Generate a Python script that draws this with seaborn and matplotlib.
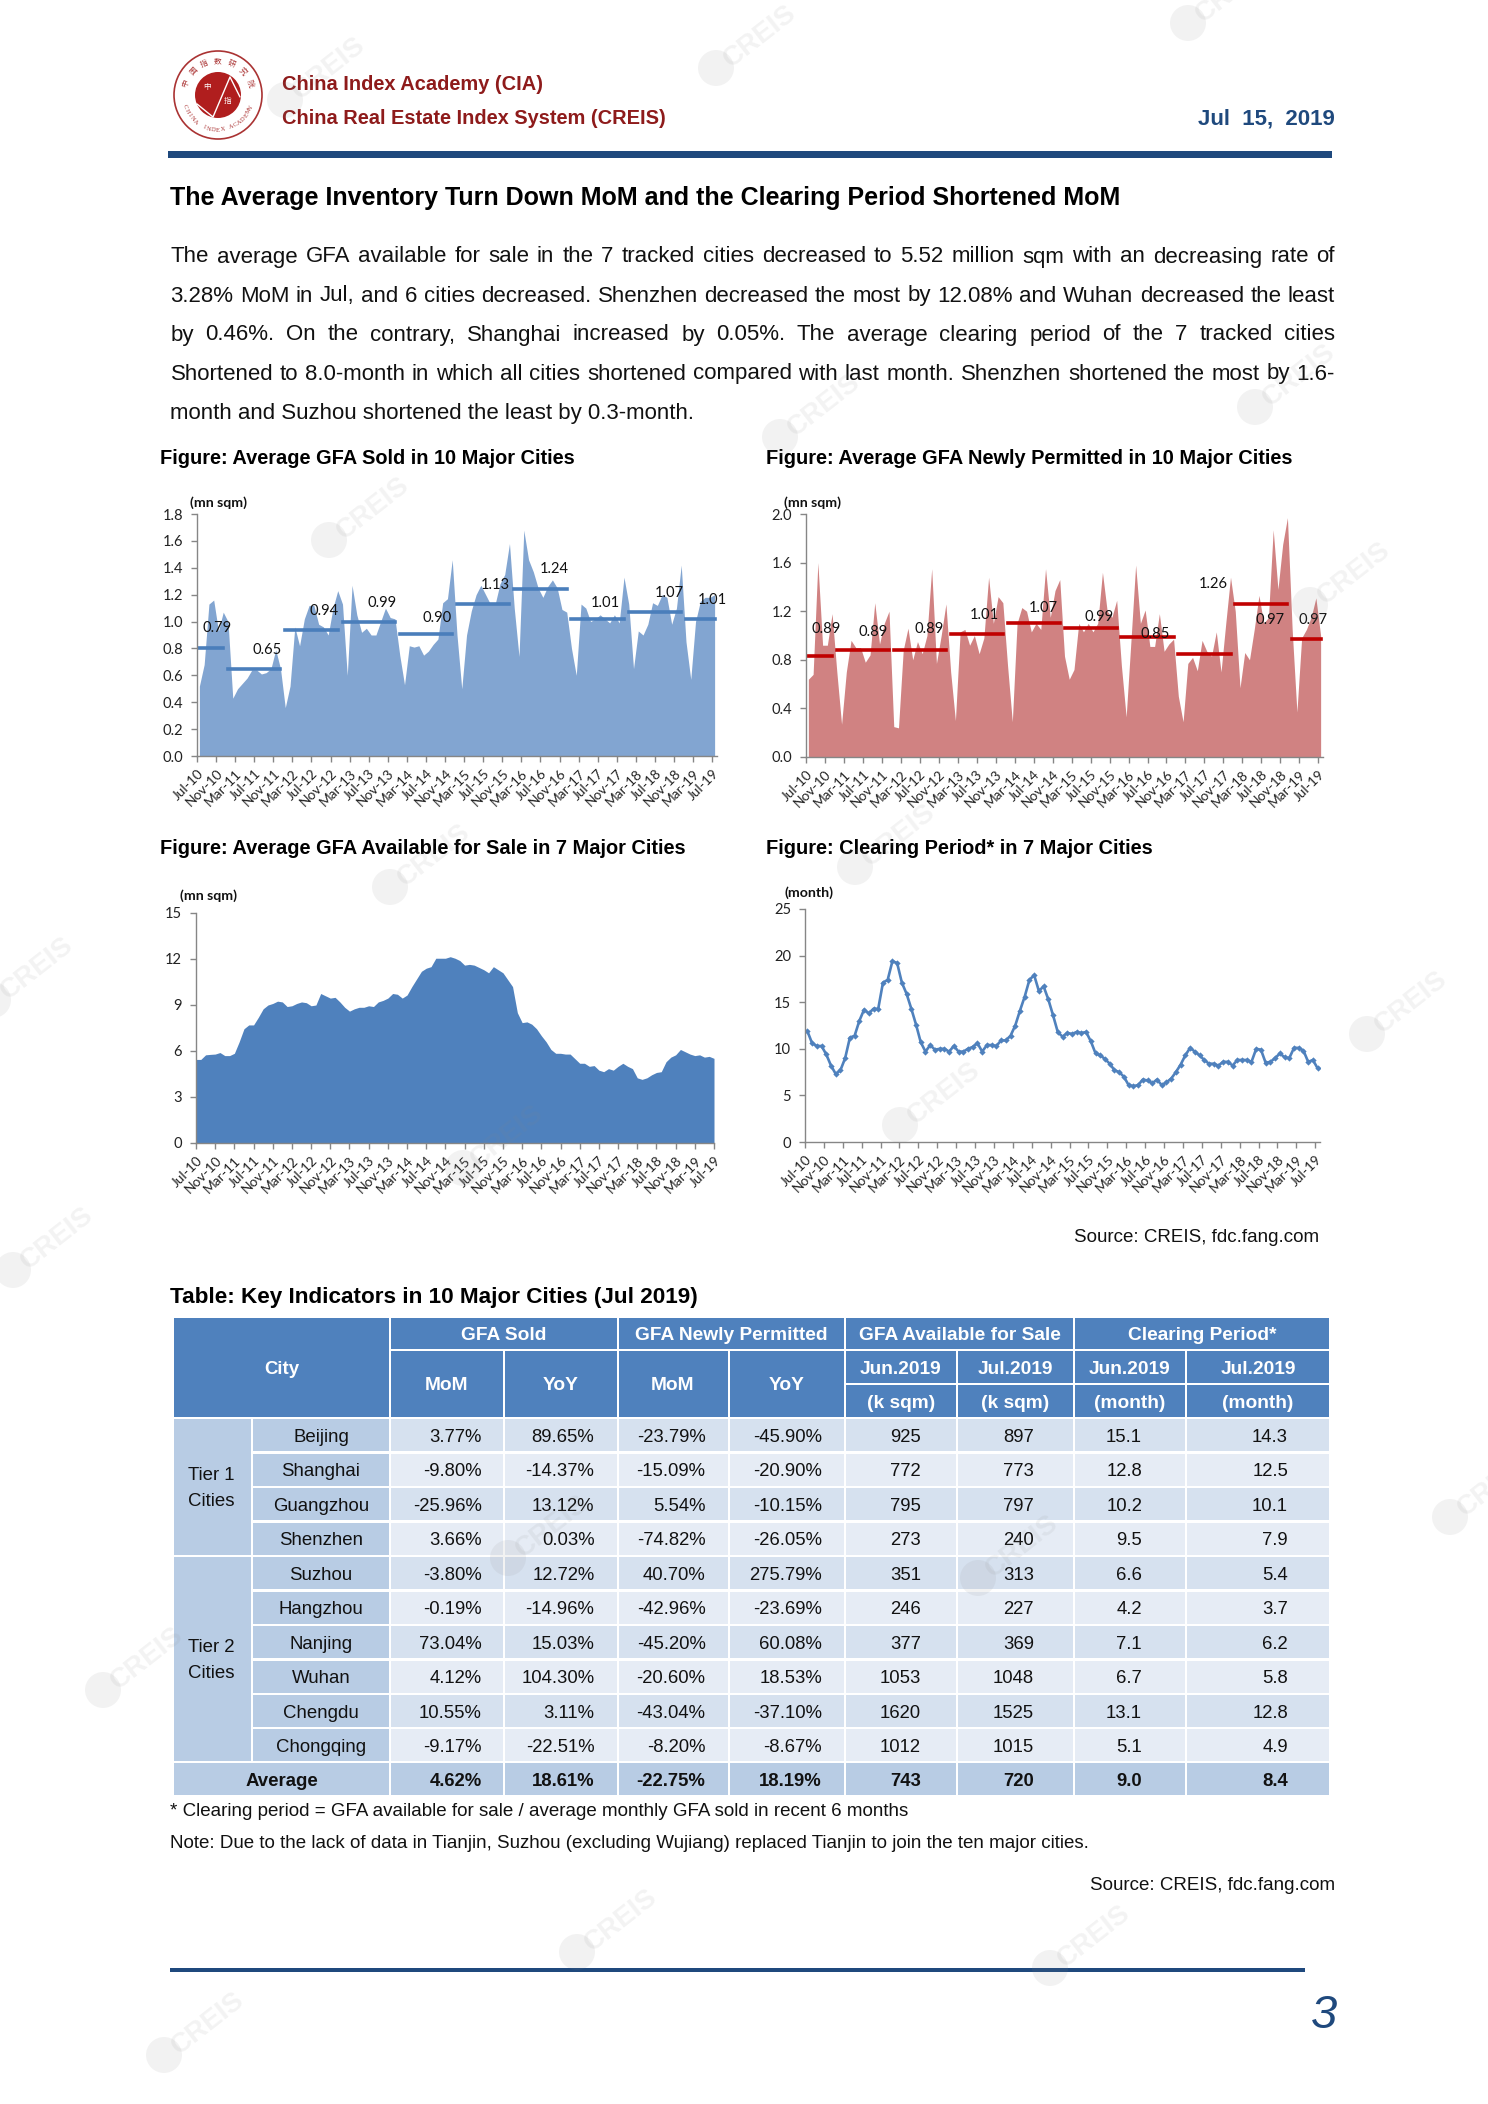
import numpy as np
import pandas as pd
import seaborn as sns
import matplotlib
matplotlib.use("Agg")
import matplotlib.pyplot as plt
from matplotlib.patches import Rectangle, Circle

sns.set_theme(style="white")
plt.rcParams['font.family'] = ['Liberation Sans', 'DejaVu Sans']

W, H = 1488, 2104
NAVY = '#1F497D'

# ------------------------------------------------------------------ data
tick_labels = ['Jul-10','Nov-10','Mar-11','Jul-11','Nov-11','Mar-12','Jul-12','Nov-12','Mar-13','Jul-13',
               'Nov-13','Mar-14','Jul-14','Nov-14','Mar-15','Jul-15','Nov-15','Mar-16','Jul-16','Nov-16',
               'Mar-17','Jul-17','Nov-17','Mar-18','Jul-18','Nov-18','Mar-19','Jul-19']

gfa_sold = [.52,.68,1.13,1.16,.93,1.07,1.0,.43,.5,.54,.58,.64,.64,.61,.62,.65,.79,.65,.36,.52,.96,.82,1.02,1.12,1.12,
            .98,.96,.9,1.1,1.23,1.13,.6,1.27,1.05,.92,.95,.9,.9,1.0,1.1,1.03,1.02,.75,.53,.82,.81,.82,.75,.78,.83,.87,
            1.14,1.17,1.46,.9,.5,.9,1.08,1.2,1.27,1.2,1.13,1.13,1.28,1.35,1.58,1.1,.74,1.68,1.46,1.37,1.25,1.18,1.26,
            1.31,1.25,1.09,1.07,.8,.6,1.13,1.1,1.0,1.02,1.05,1.02,.99,1.05,.99,1.33,1.13,.65,.93,.9,.98,1.14,1.12,1.2,
            1.18,.98,1.1,1.42,.85,.57,1.0,1.15,1.18,1.18,1.2]
gfa_permitted = [.64,.68,1.6,.92,.92,1.18,.7,.27,.7,.96,.9,.9,.78,.84,1.27,.93,1.1,1.2,.25,.24,.88,1.06,.8,.95,.85,1.0,
                 1.55,.77,1.0,1.26,.7,.3,1.03,1.05,.92,1.0,.85,.98,1.48,1.1,1.32,1.27,.75,.29,1.1,1.23,1.2,1.03,1.1,1.05,
                 1.55,1.15,1.37,1.46,.83,.64,.72,1.1,1.03,1.1,1.03,1.1,1.52,1.2,1.15,1.29,.75,.33,.95,1.58,1.1,1.21,.91,
                 .91,1.18,.87,.93,.97,.5,.29,.77,.82,.71,.96,.87,.83,1.03,.7,1.1,1.48,1.2,.57,.86,.8,1.05,1.33,1.1,1.15,
                 1.87,1.38,1.75,1.97,1.05,.37,.98,1.05,1.15,1.31,1.0]
gfa_available = [5.45,5.45,5.75,5.78,5.8,5.9,5.7,5.7,5.85,6.6,7.45,7.7,7.7,8.2,8.75,9.0,9.1,9.25,9.2,8.9,8.95,9.1,9.2,
                 9.15,8.95,9.0,9.75,9.6,9.45,9.5,9.2,8.85,8.6,8.75,8.85,8.85,8.95,8.9,9.2,9.3,9.45,9.75,9.7,9.45,9.65,
                 10.2,10.7,11.2,11.4,11.5,12.05,12.05,12.05,12.15,12.05,11.9,11.6,11.65,11.6,11.45,11.3,11.1,11.5,11.3,
                 11.1,10.65,10.2,8.5,7.85,7.9,7.75,7.45,7.0,6.6,6.1,5.85,5.85,5.8,5.8,5.5,5.2,5.2,5.0,5.05,4.75,4.65,
                 4.85,4.75,5.0,5.2,5.0,4.85,4.25,4.15,4.25,4.45,4.6,4.65,5.3,5.6,5.75,6.1,5.95,5.8,5.7,5.75,5.6,5.65,5.52]
clearing = [11.9,10.6,10.3,10.3,9.4,8.2,7.3,7.7,9.0,11.2,11.4,13.0,14.2,13.8,14.3,14.3,17.1,17.4,19.4,19.2,17.1,15.9,
            14.3,12.6,10.7,9.7,10.4,9.9,10,10,9.7,10.3,9.7,9.7,10,10.2,10.6,9.7,10.4,10.4,10.3,10.9,10.9,11.4,12.5,14.1,
            15.6,17.4,17.9,16.2,16.7,15.3,13.6,11.8,11.3,11.7,11.6,11.8,11.7,11.8,10.8,9.5,9.3,8.9,8.4,7.7,7.5,7.0,6.1,
            6.0,6.1,6.7,6.6,6.3,6.7,6.1,6.4,6.8,7.5,8.3,9.3,10.1,9.7,9.3,8.8,8.4,8.4,8.2,8.6,8.6,8.2,8.8,8.8,8.8,8.6,10,
            9.9,8.5,8.6,9.0,9.5,9.1,9.0,10.1,10.1,9.8,8.6,8.8,7.9]

year_spans = [(0,5),(6,17),(18,29),(30,41),(42,53),(54,65),(66,77),(78,89),(90,101),(102,108)]
sold_avg = [.80,.65,.94,1.0,.905,1.13,1.245,1.02,1.07,1.02]
sold_lbl = ['0.79','0.65','0.94','0.99','0.90','1.13','1.24','1.01','1.07','1.01']
sold_lbl_x = [3.7,14.2,26.2,38.3,49.9,62,74.4,85,98.5,107.5]
sold_lbl_y = [.95,.79,1.08,1.14,1.03,1.27,1.39,1.14,1.21,1.16]
perm_avg = [.83,.88,.88,1.01,1.105,1.065,.985,.845,1.26,.975]
perm_lbl = ['0.89','0.89','0.89','1.01','1.07','0.99','0.85','1.26','0.97','0.97']
perm_lbl_x = [3.7,13.7,25.4,37.1,49.6,61.2,73.2,85.3,97.3,106.5]
perm_lbl_y = [1.05,1.03,1.05,1.17,1.23,1.155,1.01,1.42,1.13,1.13]

cities = ['Beijing','Shanghai','Guangzhou','Shenzhen','Suzhou','Hangzhou','Nanjing','Wuhan','Chengdu','Chongqing']
sold_mom = ['3.77%','-9.80%','-25.96%','3.66%','-3.80%','-0.19%','73.04%','4.12%','10.55%','-9.17%']
sold_yoy = ['89.65%','-14.37%','13.12%','0.03%','12.72%','-14.96%','15.03%','104.30%','3.11%','-22.51%']
perm_mom = ['-23.79%','-15.09%','5.54%','-74.82%','40.70%','-42.96%','-45.20%','-20.60%','-43.04%','-8.20%']
perm_yoy = ['-45.90%','-20.90%','-10.15%','-26.05%','275.79%','-23.69%','60.08%','18.53%','-37.10%','-8.67%']
avail_jun = ['925','772','795','273','351','246','377','1053','1620','1012']
avail_jul = ['897','773','797','240','313','227','369','1048','1525','1015']
clear_jun = ['15.1','12.8','10.2','9.5','6.6','4.2','7.1','6.7','13.1','5.1']
clear_jul = ['14.3','12.5','10.1','7.9','5.4','3.7','6.2','5.8','12.8','4.9']
average_row = ['4.62%','18.61%','-22.75%','18.19%','743','720','9.0','8.4']

body_lines = ["The average GFA available for sale in the 7 tracked cities decreased to 5.52 million sqm with an decreasing rate of",
              "3.28% MoM in Jul, and 6 cities decreased. Shenzhen decreased the most by 12.08% and Wuhan decreased the least",
              "by 0.46%. On the contrary, Shanghai increased by 0.05%. The average clearing period of the 7 tracked cities",
              "Shortened to 8.0-month in which all cities shortened compared with last month. Shenzhen shortened the most by 1.6-",
              "month and Suzhou shortened the least by 0.3-month."]

# ------------------------------------------------------------------ page
fig = plt.figure(figsize=(W/100, H/100), dpi=100, facecolor='white')
page = fig.add_axes([0, 0, 1, 1], zorder=0)
page.set_xlim(0, W); page.set_ylim(H, 0); page.axis('off')

def put(x, y, s, size, weight='normal', color='black', ha='left', **kw):
    return page.text(x, y, s, fontsize=size, fontweight=weight, color=color, ha=ha, va='center', **kw)

def rect(x0, y0, x1, y1, color):
    page.add_patch(Rectangle((x0, y0), x1-x0, y1-y0, facecolor=color, edgecolor='none'))

# header
rect(168, 151, 1332, 158, NAVY)
put(282, 85, 'China Index Academy (CIA)', 14.4, 'bold', '#8E1B1B')
put(282, 119, 'China Real Estate Index System (CREIS)', 14.4, 'bold', '#8E1B1B')
put(1335, 119, 'Jul  15,  2019', 16, 'bold', NAVY, ha='right')

# logo
cx, cy = 218, 95
page.add_patch(Circle((cx, cy), 44, facecolor='white', edgecolor='#A33', lw=1.2))
page.add_patch(Circle((cx, cy), 23, facecolor='#B01E1E', edgecolor='none'))
page.plot([cx-21, cx-5, cx+12, cx+22], [cy+9, cy+22, cy-18, cy+2], color='white', lw=1)
page.text(cx-11, cy-8, '中', fontsize=5.5, color='white', ha='center', va='center', family=['Noto Sans CJK SC'])
page.text(cx+10, cy+6, '指', fontsize=5.5, color='white', ha='center', va='center', family=['Noto Sans CJK SC'])
for ch, a in zip('中国指数研究院', np.linspace(200, 340, 7)):
    r = np.radians(a)
    page.text(cx+34*np.cos(r), cy+34*np.sin(r), ch, fontsize=5.5, color='#A33', ha='center', va='center',
              rotation=270-a, family=['Noto Sans CJK SC'])
for ch, a in zip('CHINA INDEX ACADEMY', np.linspace(160, 20, 19)):
    r = np.radians(a)
    page.text(cx+35*np.cos(r), cy+35*np.sin(r), ch, fontsize=4.6, color='#A33', ha='center', va='center',
              rotation=90-a, family=['Liberation Serif'])

# title and body
put(170.5, 198.5, 'The Average Inventory Turn Down MoM and the Clearing Period Shortened MoM', 18, 'bold')
fig.canvas.draw()
rend = fig.canvas.get_renderer()
body_y = [257, 296, 335, 374, 413]
for k, (line, y) in enumerate(zip(body_lines, body_y)):
    if k == len(body_lines) - 1:
        put(170.5, y, line, 16.0, color='#111111')
        continue
    words = line.split(' ')
    items = [put(0, y, w, 16.0, color='#111111') for w in words]
    widths = [t.get_window_extent(rend).width for t in items]
    gap = (1335 - 170.5 - sum(widths)) / (len(words) - 1)
    x = 170.5
    for t, w in zip(items, widths):
        t.set_x(x)
        x += w + gap

# figure titles
put(160, 458, 'Figure: Average GFA Sold in 10 Major Cities', 14.4, 'bold')
put(766, 458, 'Figure: Average GFA Newly Permitted in 10 Major Cities', 14.4, 'bold')
put(160, 849, 'Figure: Average GFA Available for Sale in 7 Major Cities', 14.4, 'bold')
put(766, 849, 'Figure: Clearing Period* in 7 Major Cities', 14.4, 'bold')
put(1319, 1238, 'Source: CREIS, fdc.fang.com', 13.5, ha='right', color='#111111')

# ------------------------------------------------------------------ charts
CF = ['Lato', 'DejaVu Sans']
GREY = '#868686'
TICK = 10.6
XTICK = 9.9

def make_axes(x0, y0, x1, y1, ymax, yticks, fmt, between=True):
    ax = fig.add_axes([x0/W, 1-y1/H, (x1-x0)/W, (y1-y0)/H], zorder=2)
    ax.patch.set_alpha(0)
    n = 109
    if between:
        ax.set_xlim(-0.5, n-0.5)
        ticks = np.arange(len(tick_labels))*4 - 0.5
    else:
        ax.set_xlim(0, n-1)
        ticks = np.arange(len(tick_labels))*4
    ax.set_ylim(0, ymax)
    ax.set_xticks(ticks)
    ax.set_xticklabels(tick_labels, rotation=45, ha='right', rotation_mode='anchor', family=CF, fontsize=XTICK, color='#222222')
    ax.set_yticks(yticks)
    ax.set_yticklabels([fmt % v for v in yticks], family=CF, fontsize=TICK, color='#222222')
    ax.tick_params(axis='y', length=4, width=1, color=GREY, pad=6, left=True)
    ax.tick_params(axis='x', length=4, width=1, color=GREY, pad=4, bottom=True)
    sns.despine(ax=ax)
    for s in ('left', 'bottom'):
        ax.spines[s].set_color(GREY)
        ax.spines[s].set_linewidth(1)
    ax.set_xlabel(''); ax.set_ylabel('')
    return ax

def area(ax, values, color):
    df = pd.DataFrame({'m': np.arange(len(values)), 'v': values})
    ax.fill_between(df['m'], 0, df['v'], color=color, lw=0)

def averages(ax, avgs, labels, lx, ly, color):
    for (a, b), v in zip(year_spans, avgs):
        seg = pd.DataFrame({'m': [a, b], 'v': [v, v]})
        sns.lineplot(data=seg, x='m', y='v', ax=ax, color=color, lw=2.6, solid_capstyle='projecting', errorbar=None)
    for s, x, y in zip(labels, lx, ly):
        ax.text(x, y, s, family=CF, fontsize=TICK, color='#111111', ha='center', va='center')
    ax.set_xlabel(''); ax.set_ylabel('')

a1 = make_axes(197, 514, 717, 756, 1.8, [0,.2,.4,.6,.8,1.0,1.2,1.4,1.6,1.8], '%.1f')
area(a1, gfa_sold, '#82A5D1')
averages(a1, sold_avg, sold_lbl, sold_lbl_x, sold_lbl_y, '#4A7EBB')

a2 = make_axes(806, 514, 1323, 757, 2.0, [0,.4,.8,1.2,1.6,2.0], '%.1f')
area(a2, gfa_permitted, '#D08282')
averages(a2, perm_avg, perm_lbl, perm_lbl_x, perm_lbl_y, '#C00000')

a3 = make_axes(196, 913, 714, 1143, 15, [0,3,6,9,12,15], '%d', between=False)
area(a3, gfa_available, '#4F81BD')

a4 = make_axes(805, 909, 1320, 1142, 25, [0,5,10,15,20,25], '%d')
sns.lineplot(data=pd.DataFrame({'m': np.arange(len(clearing)), 'v': clearing}), x='m', y='v', ax=a4, color='#4F81BD',
             lw=1.9, marker='D', markersize=3.2, markeredgewidth=0, errorbar=None)
a4.set_xlabel(''); a4.set_ylabel('')

for x, y, s in [(218, 503, '(mn sqm)'), (813, 503, '(mn sqm)'), (209, 896, '(mn sqm)'), (809, 893, '(month)')]:
    page.text(x, y, s, family=CF, fontsize=10.2, fontweight='bold', color='#111111', ha='center', va='center')

# ------------------------------------------------------------------ table
put(170.5, 1297, 'Table: Key Indicators in 10 Major Cities (Jul 2019)', 16.2, 'bold')
cx_edges = [173, 252, 390, 503.5, 617.5, 728.5, 845, 957, 1074, 1186, 1330]
ry_edges = [1317, 1350, 1384, 1418, 1452.5, 1487, 1521.5, 1556, 1590.5, 1625, 1659.5, 1694, 1728, 1762, 1796]
HDR, MID, PALE, PALER = '#4F81BD', '#B8CCE4', '#D6E1EF', '#E6ECF5'
GX, GY = 2, 2.5
TY = 2.0

def cell(c0, c1, r0, r1, color):
    rect(cx_edges[c0]+GX/2, ry_edges[r0]+GY/2, cx_edges[c1]-GX/2, ry_edges[r1]-GY/2, color)

def ctext(c0, c1, r0, r1, s, weight='normal', color='#111111', size=13.4):
    put((cx_edges[c0]+cx_edges[c1])/2, (ry_edges[r0]+ry_edges[r1])/2+TY, s, size, weight, color, ha='center')

WH = 'white'
cell(0, 2, 0, 3, HDR); ctext(0, 2, 0, 3, 'City', 'bold', WH)
for (c0, c1, s) in [(2, 4, 'GFA Sold'), (4, 6, 'GFA Newly Permitted'), (6, 8, 'GFA Available for Sale'), (8, 10, 'Clearing Period*')]:
    cell(c0, c1, 0, 1, HDR); ctext(c0, c1, 0, 1, s, 'bold', WH, 13.8)
for c, s in zip(range(2, 6), ['MoM', 'YoY', 'MoM', 'YoY']):
    cell(c, c+1, 1, 3, HDR); ctext(c, c+1, 1, 3, s, 'bold', WH, 13.8)
for c, s1, s2 in zip(range(6, 10), ['Jun.2019', 'Jul.2019', 'Jun.2019', 'Jul.2019'], ['(k sqm)', '(k sqm)', '(month)', '(month)']):
    cell(c, c+1, 1, 2, HDR); ctext(c, c+1, 1, 2, s1, 'bold', WH, 13.8)
    cell(c, c+1, 2, 3, HDR); ctext(c, c+1, 2, 3, s2, 'bold', WH, 13.8)

cell(0, 1, 3, 7, MID); cell(0, 1, 7, 13, MID)
for (r0, r1, y1, y2) in [(3, 7, 'Tier 1', 'Cities'), (7, 13, 'Tier 2', 'Cities')]:
    ym = (ry_edges[r0]+ry_edges[r1])/2 + TY
    put(211, ym-13, y1, 13.4, ha='center', color='#111111')
    put(211, ym+13, y2, 13.4, ha='center', color='#111111')

columns = [sold_mom, sold_yoy, perm_mom, perm_yoy, avail_jun, avail_jul, clear_jun, clear_jul]
right_pads = [22, 23, 23, 23, 36, 40, 44, 42]
for i, city in enumerate(cities):
    r = 3 + i
    cell(1, 2, r, r+1, MID)
    ctext(1, 2, r, r+1, city)
    shade = PALE if i % 2 == 0 else PALER
    for j, col in enumerate(columns):
        c = 2 + j
        cell(c, c+1, r, r+1, shade)
        put(cx_edges[c+1]-right_pads[j], (ry_edges[r]+ry_edges[r+1])/2+TY, col[i], 13.3, ha='right', color='#111111')
cell(0, 2, 13, 14, MID); ctext(0, 2, 13, 14, 'Average', 'bold')
for j, v in enumerate(average_row):
    c = 2 + j
    cell(c, c+1, 13, 14, MID)
    put(cx_edges[c+1]-right_pads[j], (ry_edges[13]+ry_edges[14])/2+TY, v, 13.3, 'bold', ha='right', color='#111111')

put(170.5, 1811, '* Clearing period = GFA available for sale / average monthly GFA sold in recent 6 months', 13.5, color='#111111')
put(170.5, 1843, 'Note: Due to the lack of data in Tianjin, Suzhou (excluding Wujiang) replaced Tianjin to join the ten major cities.', 13.5, color='#111111')
put(1335, 1885, 'Source: CREIS, fdc.fang.com', 13.5, ha='right', color='#111111')

# footer
rect(170, 1968, 1305, 1972, NAVY)
put(1324, 2016, '3', 34, color=NAVY, ha='center', style='italic')

# ------------------------------------------------------------------ watermarks
wm = fig.add_axes([0, 0, 1, 1], zorder=5)
wm.set_xlim(0, W); wm.set_ylim(H, 0); wm.axis('off'); wm.patch.set_alpha(0)
marks = [(285,100),(716,68),(1188,23),(329,540),(780,437),(1255,407),(1310,605),(390,887),(855,867),(1367,1034),
         (13,1270),(-7,1000),(900,1125),(463,1168),(103,1690),(978,1578),(508,1558),(1450,1517),(577,1952),(1050,1968),(164,2055)]
for x, y in marks:
    wm.add_patch(Circle((x, y), 18, facecolor='#888888', edgecolor='none', alpha=0.10))
    wm.text(x+44, y-32, 'CREIS', fontsize=20, fontweight='bold', color='#888888', alpha=0.10, rotation=38,
            ha='center', va='center', clip_on=True)

fig.savefig('out.png', dpi=100)
